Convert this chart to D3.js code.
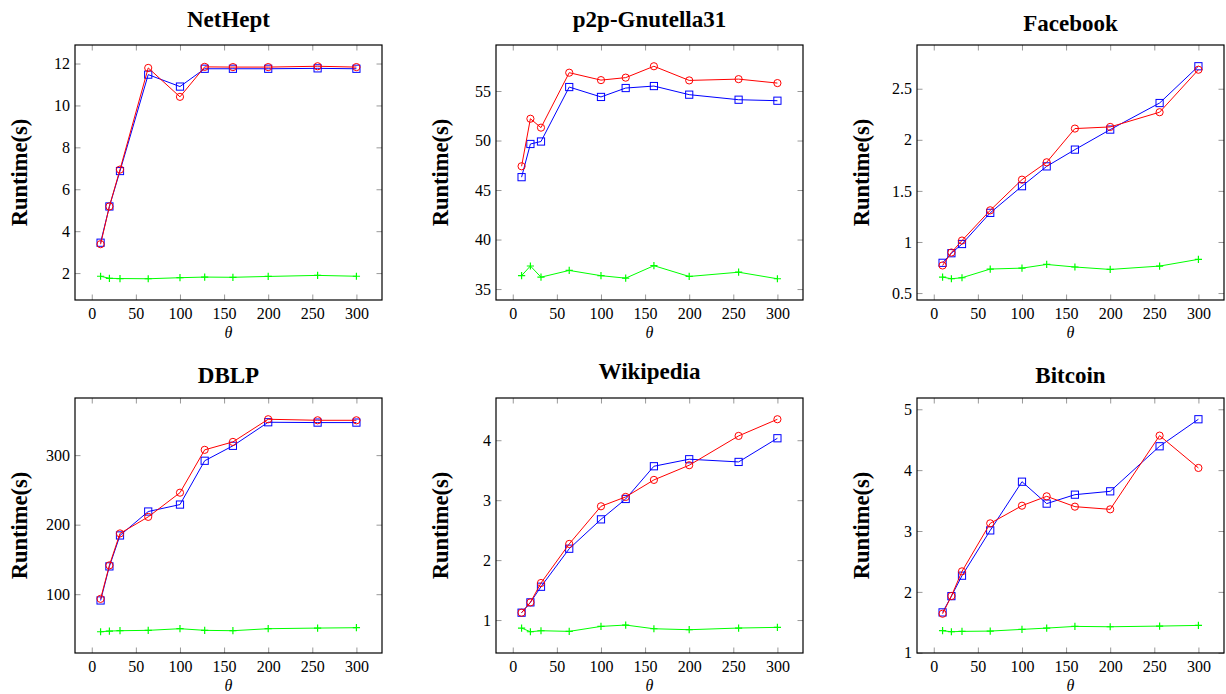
<!DOCTYPE html>
<html>
<head>
<meta charset="utf-8">
<script src="https://cdn.jsdelivr.net/npm/d3@7"></script>
<style>
    body { margin: 0; background: #fff; }
    text { font-family: "Liberation Serif", "DejaVu Serif", serif; }
</style>
</head>
<body>
<div id="container"></div>
<script>
const thetas = [10, 20, 32, 64, 100, 128, 160, 200, 256, 300]
const xTicks = [0, 50, 100, 150, 200, 250, 300]

const titles = ["NetHept", "p2p-Gnutella31", "Facebook", "DBLP", "Wikipedia", "Bitcoin"]

// blue squares, red circles, green pluses
const netheptBlue = [3.45, 5.18, 6.87, 11.47, 10.9, 11.75, 11.75, 11.75, 11.77, 11.75]
const netheptRed = [3.38, 5.18, 6.94, 11.79, 10.41, 11.84, 11.83, 11.83, 11.87, 11.83]
const netheptGreen = [1.85, 1.75, 1.74, 1.73, 1.78, 1.81, 1.80, 1.84, 1.89, 1.85]

const gnutellaBlue = [46.3, 49.65, 49.9, 55.4, 54.4, 55.3, 55.5, 54.63, 54.12, 54.02]
const gnutellaRed = [47.4, 52.2, 51.3, 56.85, 56.1, 56.35, 57.5, 56.07, 56.2, 55.8]
const gnutellaGreen = [36.35, 37.33, 36.2, 36.88, 36.35, 36.1, 37.36, 36.27, 36.7, 36.04]

const facebookBlue = [0.796, 0.89, 0.98, 1.285, 1.546, 1.74, 1.904, 2.1, 2.36, 2.72]
const facebookRed = [0.77, 0.897, 1.014, 1.31, 1.61, 1.78, 2.11, 2.126, 2.27, 2.686]
const facebookGreen = [0.656, 0.64, 0.65, 0.735, 0.744, 0.78, 0.755, 0.731, 0.764, 0.83]

const dblpBlue = [91, 140, 184.5, 218.9, 228.9, 291.9, 313.4, 347.3, 346.8, 346.8]
const dblpRed = [93.3, 141.5, 187.4, 211.2, 246, 307.6, 319, 351.6, 350.1, 350.1]
const dblpGreen = [46, 47, 47.5, 48, 50.4, 48, 47.5, 50.4, 51.3, 51.8]

const wikiBlue = [1.123, 1.295, 1.556, 2.19, 2.68, 3.02, 3.566, 3.683, 3.638, 4.033]
const wikiRed = [1.123, 1.295, 1.618, 2.27, 2.898, 3.054, 3.338, 3.583, 4.072, 4.35]
const wikiGreen = [0.867, 0.805, 0.822, 0.811, 0.894, 0.917, 0.855, 0.839, 0.867, 0.878]

const bitcoinBlue = [1.663, 1.93, 2.266, 3.01, 3.81, 3.45, 3.597, 3.652, 4.392, 4.836]
const bitcoinRed = [1.641, 1.932, 2.337, 3.126, 3.416, 3.57, 3.40, 3.356, 4.567, 4.036]
const bitcoinGreen = [1.362, 1.345, 1.351, 1.356, 1.384, 1.405, 1.433, 1.427, 1.438, 1.449]

const yTicks = [
    [2, 4, 6, 8, 10, 12],
    [35, 40, 45, 50, 55],
    [0.5, 1, 1.5, 2, 2.5],
    [100, 200, 300],
    [1, 2, 3, 4],
    [1, 2, 3, 4, 5],
]

const series = [
    [netheptBlue, netheptRed, netheptGreen],
    [gnutellaBlue, gnutellaRed, gnutellaGreen],
    [facebookBlue, facebookRed, facebookGreen],
    [dblpBlue, dblpRed, dblpGreen],
    [wikiBlue, wikiRed, wikiGreen],
    [bitcoinBlue, bitcoinRed, bitcoinGreen],
]

const W = 1226, H = 694
const boxW = 307, boxH = 255
const lefts = [75, 496, 917]
const tops = [45, 398]
const titleY = [26.7, 27.3, 30.7, 383.3, 379.3, 383.3]
const styles = [
    { color: '#0000ff', mark: 'square' },
    { color: '#ff0000', mark: 'circle' },
    { color: '#00ff00', mark: 'plus' },
]

// pgfplots style: enlarge the limits by 10% of the data range
const enlarged = (ext) => {
    const pad = (ext[1] - ext[0]) * 0.1
    return [ext[0] - pad, ext[1] + pad]
}

const svg = d3.select('#container')
    .append('svg').attr('width', W).attr('height', H)

const drawPanel = (i) => {
    const x0 = lefts[i % 3], y0 = tops[Math.floor(i / 3)]
    const g = svg.append('g').attr('transform', 'translate(' + x0 + ',' + y0 + ')')
    const all = series[i].flat()

    const xScale = d3.scaleLinear().domain(enlarged(d3.extent(thetas))).range([0, boxW])
    const yScale = d3.scaleLinear().domain(enlarged(d3.extent(all))).range([boxH, 0])

    // ticks on all four sides, pointing inward
    const tickLen = 5.5
    const fmt = d3.format('')
    const axes = [
        [d3.axisBottom(xScale).tickValues(xTicks).tickSize(-tickLen).tickFormat(fmt), 0, boxH, 'bottom'],
        [d3.axisTop(xScale).tickValues(xTicks).tickSize(-tickLen).tickFormat(''), 0, 0, 'top'],
        [d3.axisLeft(yScale).tickValues(yTicks[i]).tickSize(-tickLen).tickFormat(fmt), 0, 0, 'left'],
        [d3.axisRight(yScale).tickValues(yTicks[i]).tickSize(-tickLen).tickFormat(''), boxW, 0, 'right'],
    ]
    axes.forEach(([ax, tx, ty, side]) => {
        const a = g.append('g').attr('transform', 'translate(' + tx + ',' + ty + ')').call(ax)
        a.select('.domain').remove()
        a.selectAll('.tick line').attr('stroke', '#999').attr('stroke-width', 1)
        a.selectAll('.tick text')
            .attr('fill', '#000')
            .style('font-size', '16px')
            .style('font-family', '"Liberation Serif", serif')
        if (side === 'bottom') a.selectAll('.tick text').attr('y', 8).attr('dy', '0.71em')
        if (side === 'left') a.selectAll('.tick text').attr('x', -5)
    })

    const line = d3.line().x((d, k) => xScale(thetas[k])).y(d => yScale(d))

    series[i].forEach((values, s) => {
        const st = styles[s]
        g.append('path')
            .attr('d', line(values))
            .attr('fill', 'none')
            .attr('stroke', st.color)
            .attr('stroke-width', 1)

        const marks = g.append('g').selectAll('g').data(values).join('g')
            .attr('transform', (d, k) => 'translate(' + xScale(thetas[k]) + ',' + yScale(d) + ')')
        if (st.mark === 'circle') {
            marks.append('circle').attr('r', 3.6)
                .attr('fill', 'none').attr('stroke', st.color).attr('stroke-width', 1)
        } else if (st.mark === 'square') {
            marks.append('rect').attr('x', -3.6).attr('y', -3.6).attr('width', 7.2).attr('height', 7.2)
                .attr('fill', 'none').attr('stroke', st.color).attr('stroke-width', 1)
        } else {
            marks.append('path').attr('d', 'M-3.6,0H3.6M0,-3.6V3.6')
                .attr('stroke', st.color).attr('stroke-width', 1.2)
        }
    })

    // axis box
    g.append('rect')
        .attr('width', boxW).attr('height', boxH)
        .attr('fill', 'none').attr('stroke', '#000').attr('stroke-width', 1.2)

    svg.append('text')
        .attr('x', x0 + boxW / 2).attr('y', titleY[i])
        .attr('text-anchor', 'middle')
        .style('font-size', '23px').style('font-weight', 'bold')
        .text(titles[i])

    svg.append('text')
        .attr('transform', 'translate(' + (x0 - 48) + ',' + (y0 + boxH / 2) + ') rotate(-90)')
        .attr('text-anchor', 'middle')
        .style('font-size', '22.5px').style('font-weight', 'bold')
        .text('Runtime(s)')

    svg.append('text')
        .attr('x', x0 + boxW / 2).attr('y', y0 + boxH + 38)
        .attr('text-anchor', 'middle')
        .style('font-size', '16px').style('font-style', 'italic')
        .text('θ')
}

d3.range(6).forEach(drawPanel)
</script>
</body>
</html>
